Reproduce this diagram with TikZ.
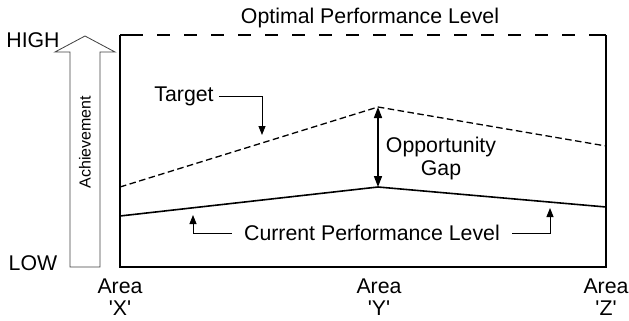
\documentclass[tikz,border=0pt]{standalone}
\usepackage{fontspec}
\setmainfont{Liberation Sans}
\usetikzlibrary{arrows.meta,positioning}

\begin{document}
\begin{tikzpicture}[x=1pt, y=-1pt, every node/.style={font=\fontsize{21.3}{22}\selectfont, inner sep=0pt},
  frame/.style={line width=2.6pt},
  callout/.style={line width=0.9pt, -{Triangle[length=9pt,width=7pt]}},
  gap/.style={line width=1.6pt, {Triangle[length=11pt,width=8pt]}-{Triangle[length=11pt,width=8pt]}}]
            \useasboundingbox (0,0) rectangle (629,321);

            % Frame corners
            \coordinate (tl) at (120,35);
            \coordinate (tr) at (606,35);
            \coordinate (bl) at (120,267);
            \coordinate (br) at (606,267);
            \draw[frame] (tl) -- (bl) -- (br) -- (tr);
            \draw[frame, dash pattern=on 13pt off 14pt, dash phase=17pt] (tl) -- (tr);
            \draw[frame] (tl) -- ++(10,0);
            \draw[frame] (tr) -- ++(-8,0);
            \node (optimal) at (370,18) {Optimal Performance Level};

            % Achievement arrow
            \draw[line width=0.8pt, black!75] (70,267) -- (70,52) -- (55,52) -- (85,36) -- (115,52) -- (100,52) -- (100,267) -- cycle;
            \node[rotate=90, font=\fontsize{16}{17}\selectfont] (achieve) at (85,142) {Achievement};
            \node (high) at (33,40) {HIGH};
            \node (low) at (33,263) {LOW};

            % Target and current levels
            \coordinate (tx) at (120,187);
            \coordinate (ty) at (378,107);
            \coordinate (tz) at (606,146);
            \coordinate (cx) at (120,216);
            \coordinate (cy) at (378,187);
            \coordinate (cz) at (606,207);
            \draw[line width=1.3pt, dash pattern=on 6.5pt off 3.5pt] (tx) -- (ty) -- (tz);
            \draw[line width=1.6pt] (cx) -- (cy) -- (cz);

            % Opportunity gap
            \draw[gap] (cy) -- (ty);
            \node[align=center] (oppgap) at (441,158) {Opportunity\\[1pt]Gap};

            % Target callout
            \node (target) at (184,96) {Target};
            \coordinate (tgtend) at (262,135);
            \draw[callout] (target.east) ++(5,0) -| (tgtend);

            % Current callout
            \node (current) at (372,233) {Current Performance Level};
            \coordinate (curL) at (193,215);
            \coordinate (curR) at (550,208);
            \draw[callout] (current.west) ++(-12,0) -| (curL);
            \draw[callout] (current.east) ++(12,0) -| (curR);

            % Area labels
            \node[align=center] (areax) at (120,297) {Area\\\textquotesingle X\textquotesingle};
            \node[align=center] (areay) at (379,297) {Area\\\textquotesingle Y\textquotesingle};
            \node[align=center] (areaz) at (606,297) {Area\\\textquotesingle Z\textquotesingle};
        \end{tikzpicture}
\end{document}
